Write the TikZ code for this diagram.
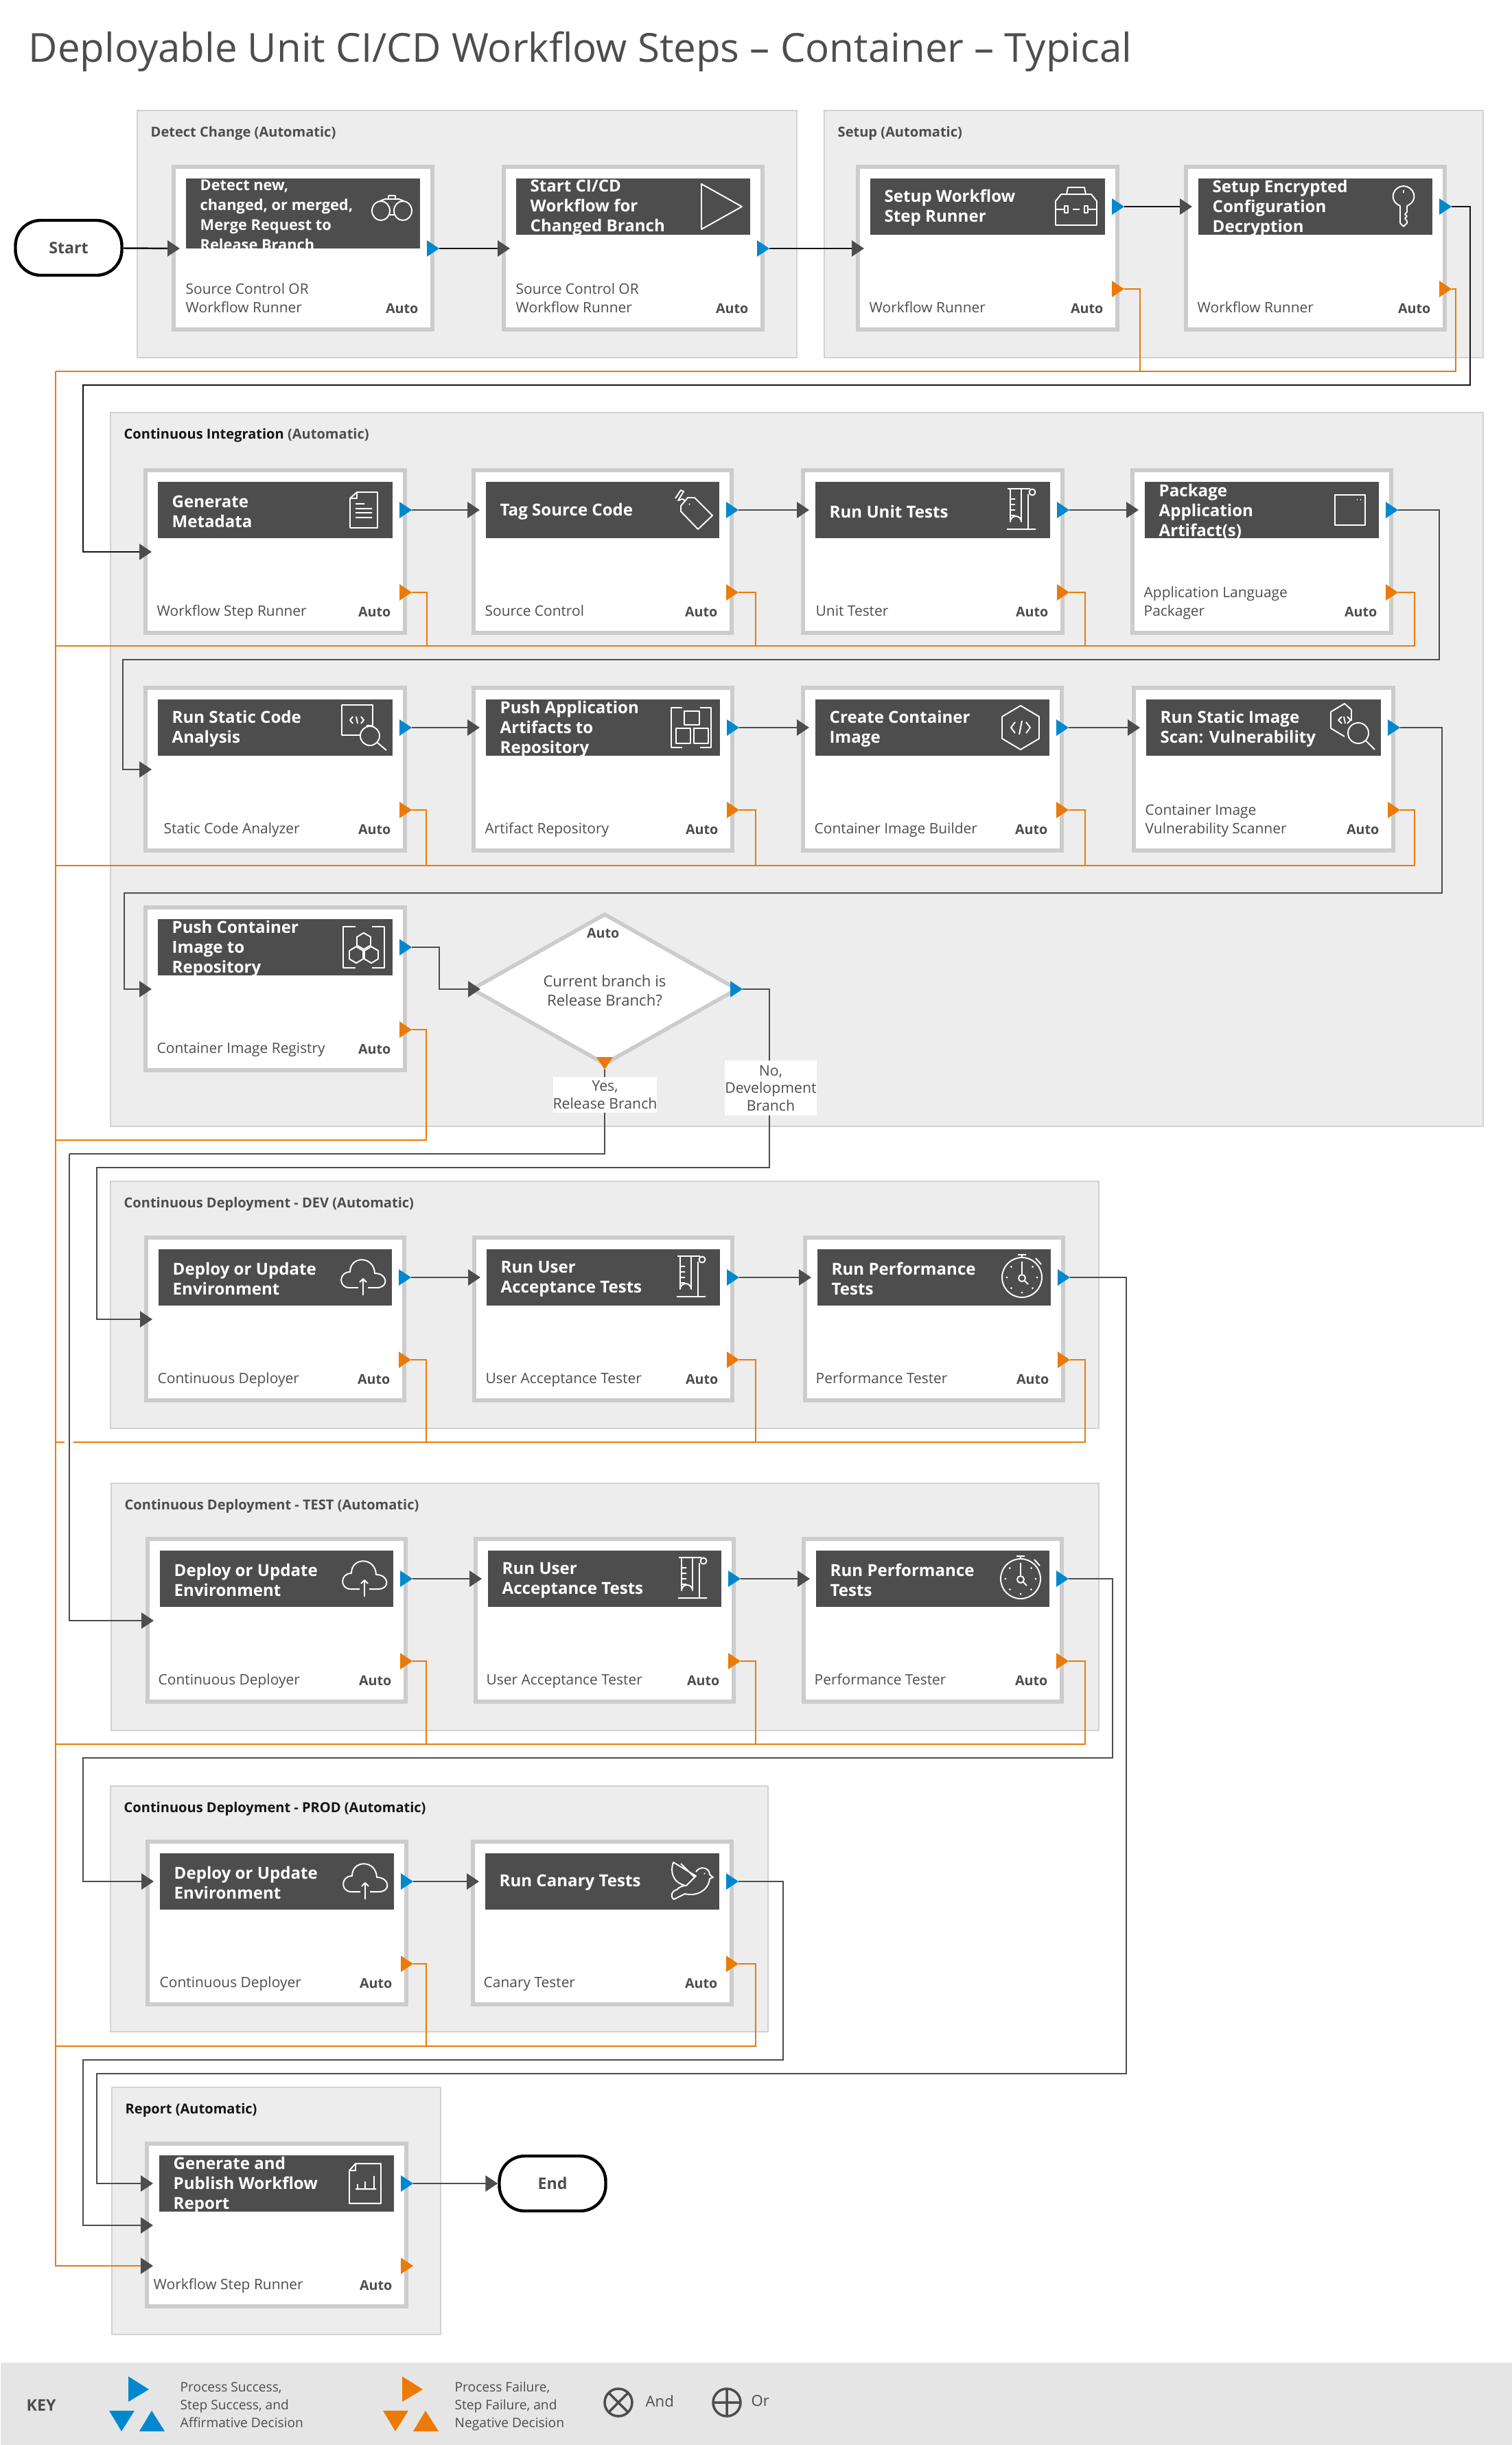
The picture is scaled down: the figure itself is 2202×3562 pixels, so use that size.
\documentclass[tikz,border=0pt]{standalone}
\usepackage{fontspec}
\setmainfont{Open Sans}
\usetikzlibrary{arrows.meta,shapes.geometric}

\definecolor{inkgray}{HTML}{4D4D4D}
\definecolor{inkblack}{HTML}{151515}
\definecolor{okblue}{HTML}{0088CE}
\definecolor{failorange}{HTML}{EC7A08}
\definecolor{groupfill}{HTML}{EDEDED}
\definecolor{groupedge}{HTML}{D2D2D2}
\definecolor{cardedge}{HTML}{CCCCCC}
\definecolor{keyfill}{HTML}{E5E5E5}

\def\px{0.01cm}
\def\tight{\fontsize{6.2}{7.56}\selectfont}

\tikzset{
  groupbox/.style={draw=groupedge,fill=groupfill,line width=0.7pt,inner sep=0,outer sep=0,anchor=north west},
  grouptitle/.style={anchor=west,inner sep=0,text=inkgray,font=\fontsize{5.7}{7}\selectfont\bfseries},
  cardbox/.style={draw=cardedge,fill=white,line width=1.6pt,inner sep=0,outer sep=0,anchor=north west},
  headbox/.style={fill=inkgray,inner sep=0,outer sep=0,anchor=north west},
  headtext/.style={anchor=west,inner sep=0,align=left,text=white,font=\fontsize{6.85}{8.25}\selectfont\bfseries},
  tooltext/.style={anchor=south west,inner sep=0,align=left,text=inkgray,font=\fontsize{5.95}{7.68}\selectfont},
  autotext/.style={anchor=base east,inner sep=0,text=inkgray,font=\fontsize{5.6}{7}\selectfont\bfseries},
  endbox/.style={draw=black,fill=white,line width=1.25pt,rounded corners=10.5pt,inner sep=0,text=inkgray,
    minimum width=155*\px,minimum height=80*\px,font=\fontsize{6.6}{8}\selectfont\bfseries},
  choicebox/.style={fill=white,inner sep=0,align=center,text=inkgray,font=\fontsize{6.05}{7.25}\selectfont},
  keytext/.style={anchor=west,inner sep=0,align=left,text=inkgray,font=\fontsize{5.45}{7.4}\selectfont},
  flowline/.style={draw=inkgray,line width=0.7pt},
  flow/.style={flowline,-{Triangle[length=5.1pt,width=6.6pt,color=inkgray]}},
  flowk/.style={flow,draw=inkblack},
  faillink/.style={draw=failorange,line width=0.7pt},
  iconline/.style={draw=white,line width=0.55pt,line join=round,fill=none},
  keyring/.style={draw=inkgray,line width=1pt},
  binoculars/.pic={
    \draw[iconline] (-15,6) ellipse (13 and 14) (17,6) ellipse (13 and 14) (-2,12) -- (4,12)
      (-17,-8) -- (-9,-11) -- (11,-11) -- (19,-8) (-4,-11) -- (-4,-16) -- (6,-16) -- (6,-11);},
  playmark/.pic={\draw[iconline] (-29,-33) -- (30,0) -- (-29,33) -- cycle;},
  toolbox/.pic={
    \draw[iconline] (-30,-8) -- (-22,-18) -- (22,-18) -- (30,-8) -- (30,27) -- (-30,27) -- cycle
      (-14,-18) -- (-12,-28) -- (12,-28) -- (14,-18) (-30,4) -- (-17,4) (-5,4) -- (5,4) (17,4) -- (30,4)
      (-17,-1) rectangle (-12,9) (12,-1) rectangle (17,9);},
  keymark/.pic={
    \draw[iconline] (-5,-1) .. controls (-24,-10) and (-14,-30) .. (0,-30) .. controls (14,-30) and (24,-10) .. (5,-1)
      -- (5,8) -- (2,11) -- (5,14) -- (2,17) -- (5,21) -- (5,24) -- (0,29) -- (-5,24) -- cycle (0,-24) -- (0,-20);},
  docmark/.pic={
    \draw[iconline] (-20,-17) -- (-10,-26) -- (20,-26) -- (20,26) -- (-20,26) -- cycle (-10,-26) -- (-10,-17) -- (-20,-17)
      (-12,-9) -- (1,-9) (-12,-2) -- (12,-2) (-12,4) -- (12,4) (-12,11) -- (12,11);},
  tagmark/.pic={
    \draw[iconline] (-14,-6) -- (-4,-18) -- (6,-18) -- (32,8) -- (11,28) -- (-14,2) -- cycle
      (-22,-17) -- (-14,-29) -- (-10,-27) -- (-18,-14) -- (-12,-16) -- (-8,-14) (-2,-9) -- (-1,-8);},
  flask/.pic={
    \draw[iconline] (-16,-31) -- (-16,17) arc (180:360:8) -- (0,-31) (-20,-31) -- (4,-31) -- (13,-31)
      (10,-23) -- (10,28) (-21,28) -- (21,28) (-16,-16) -- (-9,-16) (-16,-8) -- (-9,-8) (-16,0) -- (-9,0) (-16,8) -- (-9,8)
      (16,-26) circle (4.5);},
  boxmark/.pic={\draw[iconline] (-22,-22) rectangle (22,22) (10,-15) -- (11,-15) (15,-15) -- (16,-15);},
  codezoom/.pic={
    \draw[iconline] (4,-3) -- (13,-3) -- (13,-33) -- (-32,-33) -- (-32,11) -- (-6,11)
      (9,12) circle (14) (20,22) -- (33,33)
      (-16,-16) -- (-20,-11) -- (-16,-6) (-4,-16) -- (0,-11) -- (-4,-6) (-9,-6) -- (-11,-16);},
  artifacts/.pic={
    \draw[iconline] (-13,-29) -- (-29,-29) -- (-29,29) -- (-13,29) (13,-29) -- (29,-29) -- (29,29) -- (13,29)
      (-10,-24) rectangle (12,-4) (-22,1) rectangle (-1,23) (4,1) rectangle (25,23);},
  hexcode/.pic={
    \draw[iconline] (0,-32) -- (27,-16) -- (27,16) -- (0,32) -- (-27,16) -- (-27,-16) -- cycle
      (-8,-8) -- (-14,0) -- (-8,8) (8,-8) -- (14,0) -- (8,8) (2,-10) -- (-2,10);},
  hexzoom/.pic={
    \draw[iconline] (-1,-26) -- (-11,-35) -- (-31,-23) -- (-31,1) -- (-11,13)
      (9,8) circle (15) (20,19) -- (33,32) (-1,-26) -- (-1,-10)
      (-15,-16) -- (-20,-11) -- (-15,-6) (-7,-16) -- (-2,-11) -- (-7,-6) (-10,-6) -- (-12,-16);},
  hexcluster/.pic={
    \draw[iconline] (-12,-30) -- (-30,-30) -- (-30,30) -- (-12,30) (12,-30) -- (30,-30) -- (30,30) -- (12,30);
    \foreach \a/\b in {0/-9,-11/11,11/11}
      \draw[iconline,shift={(\a,\b)}] (0,-12) -- (10,-6) -- (10,6) -- (0,12) -- (-10,6) -- (-10,-6) -- cycle;},
  cloudup/.pic={
    \draw[iconline] (-7,15) -- (-20,15) .. controls (-36,15) and (-36,-8) .. (-19,-8)
      .. controls (-19,-32) and (16,-32) .. (17,-6) .. controls (36,-6) and (38,15) .. (20,15) -- (7,15)
      (0,26) -- (0,2) (-5,7) -- (0,2) -- (5,7);},
  stopwatch/.pic={
    \draw[iconline] (0,0) circle (29) (0,-29) -- (0,-33) (-6,-33) -- (6,-33) (20,-28) -- (28,-19)
      (0,-22) -- (0,-5) (0,1) circle (5) (4,5) -- (9,10);
    \foreach \a in {0,45,...,315}
      \fill[white] (\a:22) circle (1.5);},
  birdmark/.pic={
    \draw[iconline] (-25,-28) .. controls (-31,-10) and (-22,4) .. (-6,6) -- (8,-8) -- cycle (-14,-26) -- (6,-6)
      (8,-14) .. controls (14,-24) and (28,-20) .. (28,-10) -- (33,-6) -- (28,-4) .. controls (26,14) and (8,22) .. (-8,18)
      -- (-24,26) .. controls (-30,22) and (-28,14) .. (-20,12) .. controls (-16,8) and (-12,6) .. (-6,6) (20,-12) -- (21,-11);},
  chartdoc/.pic={
    \draw[iconline] (-23,-19) -- (-14,-29) -- (23,-29) -- (23,29) -- (-23,29) -- cycle (-14,-29) -- (-14,-19) -- (-23,-19)
      (-14,8) -- (16,8) (-11,8) -- (-11,1) (0,8) -- (0,-3) (13,8) -- (13,-11);}
}

% name, x, y, width, head height, title, tool, tool offset, icon
\newcommand{\stepcard}[9]{
  \node[cardbox,minimum width={(#4-6)*\px},minimum height=237*\px] (#1) at (#2+3,#3+3) {};
  \node[headbox,minimum width={(#4-42)*\px},minimum height=#5*\px] (#1-head) at (#2+21,#3+20) {};
  \node[headtext] (#1-text) at (#2+41,#3+22+#5/2) {#6};
  \node[tooltext] (#1-tool) at (#2+#8,#3+224) {#7\strut};
  \node[autotext] (#1-auto) at (#2+#4-23,#3+216) {Auto};
  \pic at (#2+#4-63,#3+61) {#9};
  \coordinate (#1-in) at (#2+12,#3+61);
  \coordinate (#1-side) at (#2+12,#3+122);
  \coordinate (#1-low) at (#2+12,#3+181);
  \coordinate (#1-ok) at (#2+#4+7,#3+61);
  \coordinate (#1-okm) at (#2+#4+7,#3+122);
  \coordinate (#1-fail) at (#2+#4+7,#3+181);
}
% name, x, y, width, height, title
\newcommand{\stepgroup}[6]{
  \node[groupbox,minimum width=#4*\px,minimum height=#5*\px] (#1) at (#2,#3) {};
  \node[grouptitle] (#1-title) at (#2+19,#3+33) {#6};
}
\newcommand{\rightport}[2]{\fill[#1,shift={(#2)}] (-18,-12) -- (0,0) -- (-18,12) -- cycle;}

\begin{document}
\begin{tikzpicture}[x=\px,y=-\px]
\useasboundingbox (0,0) rectangle (2202,3562);

\node[anchor=west,inner sep=0,text=inkgray,font=\fontsize{16.55}{18}\selectfont] (heading) at (41,75)
  {Deployable Unit CI/CD Workflow Steps – Container – Typical};

\stepgroup{gdetect}{200}{161}{961}{360}{Detect Change (Automatic)}
\stepgroup{gsetup}{1201}{161}{960}{360}{Setup (Automatic)}
\stepgroup{gci}{161}{601}{2000}{1040}{\textcolor{inkblack}{Continuous Integration} (Automatic)}
\stepgroup{gdev}{161}{1721}{1440}{360}{Continuous Deployment - DEV (Automatic)}
\stepgroup{gtest}{162}{2161}{1439}{360}{Continuous Deployment - TEST (Automatic)}
\stepgroup{gprod}{161}{2602}{958}{358}{\textcolor{inkblack}{Continuous Deployment - PROD (Automatic)}}
\stepgroup{greport}{163}{3041}{479}{360}{\textcolor{inkblack}{Report (Automatic)}}

\stepcard{c1}{250}{240}{383}{102}{\tight Detect new,\\\tight changed, or merged,\\\tight Merge Request to\\\tight Release Branch}{Source Control OR\\Workflow Runner}{20}{binoculars}
\stepcard{c2}{731}{240}{383}{82}{Start CI/CD\\Workflow for\\Changed Branch}{Source Control OR\\Workflow Runner}{20}{playmark}
\stepcard{c3}{1247}{240}{384}{82}{Setup Workflow\\Step Runner}{Workflow Runner}{19}{toolbox}
\stepcard{c4}{1725}{240}{383}{82}{Setup Encrypted\\Configuration\\Decryption}{Workflow Runner}{19}{keymark}

\stepcard{c5}{209}{682}{384}{82}{Generate\\Metadata}{Workflow Step Runner}{19}{docmark}
\stepcard{c6}{687}{682}{382}{82}{Tag Source Code}{Source Control}{19}{tagmark}
\stepcard{c7}{1167}{682}{384}{82}{Run Unit Tests}{Unit Tester}{21}{flask}
\stepcard{c8}{1647}{682}{383}{82}{Package\\Application\\Artifact(s)}{Application Language\\Packager}{19}{boxmark}

\stepcard{c9}{209}{999}{384}{82}{Run Static Code\\Analysis}{Static Code Analyzer}{29}{codezoom}
\stepcard{c10}{687}{999}{383}{82}{Push Application\\Artifacts to\\Repository}{Artifact Repository}{19}{artifacts}
\stepcard{c11}{1167}{999}{383}{82}{Create Container\\Image}{Container Image Builder}{19}{hexcode}
\stepcard{c12}{1649}{999}{384}{82}{Run Static Image\\Scan: Vulnerability}{Container Image\\Vulnerability Scanner}{19}{hexzoom}

\stepcard{c13}{209}{1319}{384}{82}{Push Container\\Image to\\Repository}{Container Image Registry}{19}{hexcluster}

\stepcard{c14}{210}{1800}{382}{82}{Deploy or Update\\Environment}{Continuous Deployer}{19}{cloudup}
\stepcard{c15}{688}{1800}{382}{82}{Run User\\Acceptance Tests}{User Acceptance Tester}{19}{flask}
\stepcard{c16}{1170}{1800}{382}{82}{Run Performance\\Tests}{Performance Tester}{18}{stopwatch}

\stepcard{c17}{212}{2239}{382}{82}{Deploy or Update\\Environment}{Continuous Deployer}{18}{cloudup}
\stepcard{c18}{690}{2239}{382}{82}{Run User\\Acceptance Tests}{User Acceptance Tester}{18}{flask}
\stepcard{c19}{1168}{2239}{382}{82}{Run Performance\\Tests}{Performance Tester}{18}{stopwatch}

\stepcard{c20}{212}{2680}{383}{82}{Deploy or Update\\Environment}{Continuous Deployer}{20}{cloudup}
\stepcard{c21}{686}{2680}{383}{82}{Run Canary Tests}{Canary Tester}{18}{birdmark}

\stepcard{c22}{211}{3120}{384}{82}{Generate and\\Publish Workflow\\Report}{Workflow Step Runner}{12}{chartdoc}

\node[diamond,draw=cardedge,fill=white,line width=1.6pt,inner sep=0,minimum width=388*\px,minimum height=220*\px] (dia) at (881,1441) {};
\node[choicebox,fill=none,font=\fontsize{6.3}{7.9}\selectfont] (dia-text) at (881,1443) {Current branch is\\Release Branch?};
\node[autotext] (dia-auto) at (903,1366) {Auto};
\coordinate (dia-in) at (700,1441);
\coordinate (dia-ok) at (1082,1441);
\coordinate (dia-fail) at (881,1558);

\node[endbox] (start) at (100,361) {Start};
\node[endbox] (finish) at (805,3181) {End};

% failure rails
\foreach \a/\b in {r1/541,r2/941,r3/1261,r4/1661,r6/2541,r7/2981}
  \coordinate (\a) at (81,\b);
\coordinate (r5) at (107,2101);
\coordinate (r5b) at (94,2101);
\coordinate (r5c) at (81,2101);
\draw[faillink] (r1) -- (r7);
\draw[flow,draw=failorange] (r7) |- (c22-low);
\draw[faillink] (r5b) -- (r5c);
\foreach \a/\b/\c in {c3/23/r1,c4/6/r1,c5/22/r2,c6/25/r2,c7/23/r2,c8/24/r2,
  c9/21/r3,c10/24/r3,c11/24/r3,c12/21/r3,c13/21/r4,
  c14/22/r5,c15/24/r5,c16/22/r5,c17/20/r6,c18/22/r6,c19/24/r6,c20/19/r7,c21/25/r7}
  \draw[faillink] (\a-fail) -- ++(\b,0) |- (\c);

% success flows
\foreach \a/\b in {start/c1-side,c1-okm/c2-side,c2-okm/c3-side,c3-ok/c4-in}
  \draw[flowk] (\a) -- (\b);
\foreach \a/\b in {c5/c6,c6/c7,c7/c8,c9/c10,c10/c11,c11/c12,c14/c15,c15/c16,c17/c18,c18/c19,c20/c21}
  \draw[flow] (\a-ok) -- (\b-in);

\foreach \a/\b/\c in {j1/2142/561,k1/121/561,j2/2097/961,k2/179/961,j3/2101/1301,k3/181/1301,j4/640/1411,
  j5/1121/1701,k5/141/1701,j6/881/1681,k6/101/1681,j7/1641/3021,k7/141/3021,j8/1621/2561,k8/121/2561,j9/1141/3001,k9/121/3001}
  \coordinate (\a) at (\b,\c);

\draw[flowk] (c4-ok) -| (j1) -- (k1) |- (c5-side);
\draw[flow] (c8-ok) -| (j2) -- (k2) |- (c9-side);
\draw[flow] (c12-ok) -| (j3) -- (k3) |- (c13-side);
\draw[flow] (c13-ok) -| (j4) |- (dia-in);
\draw[flow] (dia-ok) -| (j5) -- (k5) |- (c14-side);
\draw[flowline] (dia-fail) -- (j6) -- (k6);
\draw[flow] (k6) |- (c17-side);
\draw[flow] (c16-ok) -| (j7) -- (k7) |- (c22-in);
\draw[flow] (c19-ok) -| (j8) -- (k8) |- (c20-in);
\draw[flow] (c21-ok) -| (j9) -- (k9) |- (c22-side);
\draw[flow] (c22-ok) -- (finish.west);

% ports
\foreach \a in {c1-okm,c2-okm,c3-ok,c4-ok,c5-ok,c6-ok,c7-ok,c8-ok,c9-ok,c10-ok,c11-ok,c12-ok,c13-ok,
  c14-ok,c15-ok,c16-ok,c17-ok,c18-ok,c19-ok,c20-ok,c21-ok,c22-ok,dia-ok}
  \rightport{okblue}{\a};
\foreach \a in {c3,c4,c5,c6,c7,c8,c9,c10,c11,c12,c13,c14,c15,c16,c17,c18,c19,c20,c21,c22}
  \rightport{failorange}{\a-fail};
\fill[failorange,shift={(dia-fail)}] (-12,-18) -- (12,-18) -- (0,0) -- cycle;

\node[choicebox,minimum width=151*\px,minimum height=52*\px] (yes) at (881.5,1595) {Yes,\\Release Branch};
\node[choicebox,minimum width=132*\px,minimum height=80*\px] (no) at (1123,1585) {No,\\Development\\Branch};

% key
\node[fill=keyfill,inner sep=0,anchor=north west,minimum width=2202*\px,minimum height=121*\px] (keyband) at (0,3441) {};
\node[anchor=west,inner sep=0,text=inkgray,font=\fontsize{6.6}{8}\selectfont\bfseries] (keytitle) at (38,3504) {KEY};
\foreach \a/\b in {okblue/0,failorange/399}{
  \fill[\a,xshift=\b*\px] (187,3462) -- (217,3481) -- (187,3499) -- cycle;
  \fill[\a,xshift=\b*\px] (159,3512) -- (196,3512) -- (177,3542) -- cycle;
  \fill[\a,xshift=\b*\px] (203,3542) -- (240,3542) -- (221,3512) -- cycle;
}
\node[keytext] (keyok) at (262,3504) {Process Success,\\Step Success, and\\Affirmative Decision};
\node[keytext] (keyfail) at (662,3505) {Process Failure,\\Step Failure, and\\Negative Decision};
\node[keytext,font=\fontsize{6.3}{8}\selectfont] (keyand) at (940,3498) {And};
\node[keytext,font=\fontsize{6.3}{8}\selectfont] (keyor) at (1094,3498) {Or};
\draw[keyring] (901,3500) circle (20) (887,3486) -- (915,3514) (887,3514) -- (915,3486);
\draw[keyring] (1059,3500) circle (20) (1039,3500) -- (1079,3500) (1059,3480) -- (1059,3520);
\end{tikzpicture}
\end{document}
